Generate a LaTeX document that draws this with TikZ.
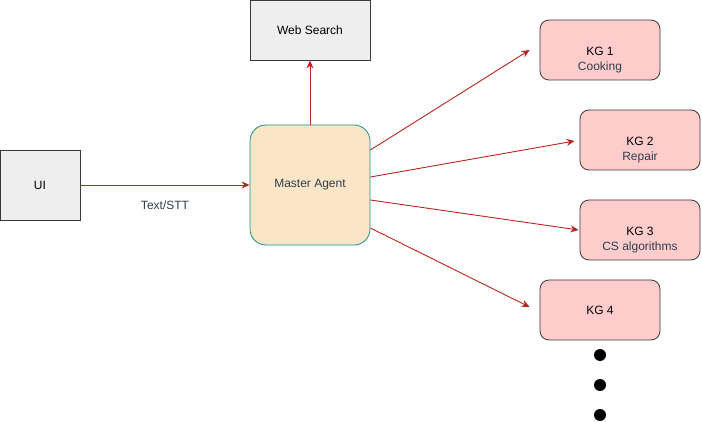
\documentclass[tikz,border=0pt]{standalone}
\usepackage{fontspec}
\setmainfont{Liberation Sans}
\usetikzlibrary{arrows.meta}
\definecolor{arrowred}{HTML}{B5261E}
\definecolor{boxgray}{HTML}{EEEEEE}
\definecolor{boxline}{HTML}{36393D}
\definecolor{agentfill}{HTML}{FAE5C7}
\definecolor{agentline}{HTML}{16918B}
\definecolor{kgfill}{HTML}{FFCCCC}
\definecolor{subtext}{HTML}{2E3E4C}

\begin{document}
\begin{tikzpicture}[x=1pt, y=-1pt, font=\fontsize{12}{14}\selectfont,
  graybox/.style={draw=boxline, fill=boxgray, thick, minimum width=120pt, minimum height=60pt, text=black},
  kgbox/.style={draw=boxline, fill=kgfill, thick, rounded corners=9pt, minimum width=120pt, minimum height=60pt, align=center, text=black},
  arr/.style={draw=arrowred, line width=0.9pt, -{Stealth[length=8pt, width=7pt]}}]
\newcommand\KGText[2]{\mbox{}\\[14pt]#1\\[1pt]\color{subtext}#2}
\useasboundingbox (0,0) rectangle (702,422);
\node[graybox, minimum width=80pt, minimum height=70pt] (ui) at (40,185) {UI};
\node[graybox] (web) at (310,30) {Web Search};
\node[draw=agentline, fill=agentfill, thick, rounded corners=16pt, minimum size=120pt, text=subtext] (master) at (310,185) {Master Agent};
\node[kgbox] (kg1) at (600,50) {\KGText{KG 1}{Cooking}};
\node[kgbox] (kg2) at (640,140) {\KGText{KG 2}{Repair}};
\node[kgbox] (kg3) at (640,230) {\KGText{KG 3}{CS algorithms}};
\node[kgbox] (kg4) at (600,310) {KG 4};
\foreach \y in {355,385,415}
  \fill (600,\y) circle (6pt);
\draw[arr] (ui) -- node[below=12pt, text=subtext] (stt) {Text/STT} (master);
\draw[arr] (master) -- (web);
\draw[arr] ([yshift=35pt]master.east) -- ([xshift=-10pt]kg1.west);
\draw[arr] ([yshift=8pt]master.east) -- ([xshift=-5pt, yshift=-1pt]kg2.west);
\draw[arr] ([yshift=-15pt]master.east) -- ([xshift=-1pt]kg3.west);
\draw[arr] ([yshift=-43pt]master.east) -- ([xshift=-10pt, yshift=3pt]kg4.west);
\end{tikzpicture}
\end{document}
